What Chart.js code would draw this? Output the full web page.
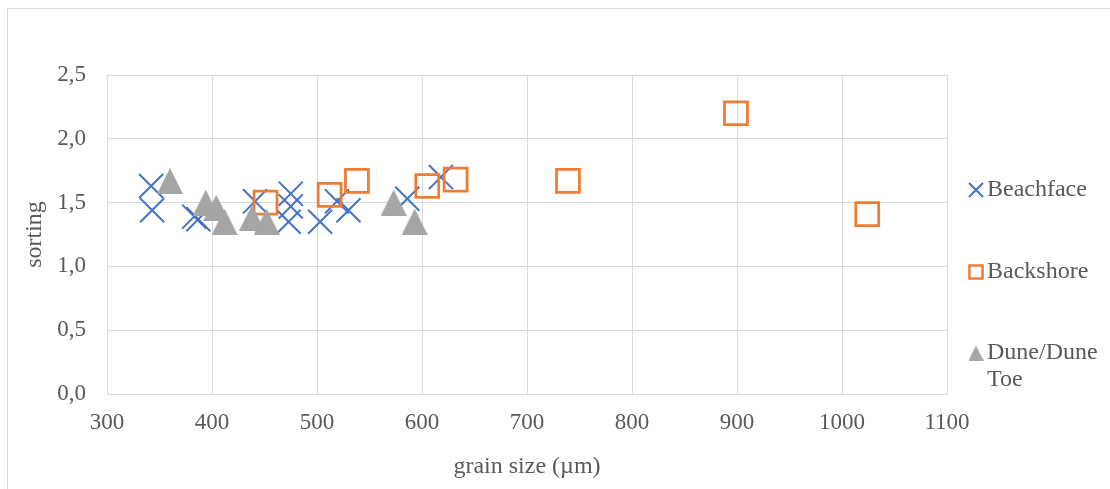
<!DOCTYPE html>
<html>
<head>
<meta charset="utf-8">
<script src="https://cdn.jsdelivr.net/npm/chart.js@4/dist/chart.umd.min.js"></script>
<style>
  html, body { margin: 0; padding: 0; background: #ffffff; }
  #wrap { width: 1110px; height: 489px; position: relative; }
</style>
</head>
<body>
<div id="wrap"><canvas id="c" width="1110" height="489"></canvas></div>
<script>
// Grain size (µm) and sorting per sample group
const beachfaceSize    = [342, 343, 383, 387, 441, 475, 475, 473, 503, 519, 530, 586, 618];
const beachfaceSorting = [1.63, 1.44, 1.39, 1.37, 1.51, 1.57, 1.47, 1.35, 1.35, 1.51, 1.44, 1.53, 1.70];

const backshoreSize    = [451, 512, 538, 605, 632, 739, 899, 1024];
const backshoreSorting = [1.50, 1.56, 1.67, 1.63, 1.68, 1.67, 2.20, 1.41];

const duneSize    = [360, 394, 404, 412, 438, 452, 573, 593];
const duneSorting = [1.67, 1.50, 1.46, 1.35, 1.38, 1.35, 1.50, 1.35];

const seriesNames = ['Beachface', 'Backshore', 'Dune/Dune Toe'];
const xTickValues = [300, 400, 500, 600, 700, 800, 900, 1000, 1100];
const yTickLabels = ['0,0', '0,5', '1,0', '1,5', '2,0', '2,5'];
const xTitle = 'grain size (µm)';
const yTitle = 'sorting';

const BLUE = '#4472C4', ORANGE = '#ED7D31', GREY = '#A5A5A5';
const TEXT = '#595959', GRID = '#D9D9D9';
const FONT = '"Liberation Serif", "Times New Roman", serif';

function pts(xs, ys) { return xs.map((x, i) => ({ x: x, y: ys[i] })); }

// filled grey triangle used as the dune marker
function triangleImage(w, h, color) {
  const cv = document.createElement('canvas');
  cv.width = w; cv.height = h;
  const g = cv.getContext('2d');
  g.fillStyle = color;
  g.beginPath();
  g.moveTo(w / 2, 0);
  g.lineTo(w, h);
  g.lineTo(0, h);
  g.closePath();
  g.fill();
  return cv;
}
const triMarker = triangleImage(26, 26, GREY);

// outer frame of the chart
const framePlugin = {
  id: 'frame',
  beforeDraw(chart) {
    const ctx = chart.ctx;
    ctx.save();
    ctx.fillStyle = '#ffffff';
    ctx.fillRect(0, 0, chart.width, chart.height);
    ctx.strokeStyle = GRID;
    ctx.lineWidth = 1;
    ctx.strokeRect(7.5, 8.5, chart.width + 20, chart.height + 20);
    ctx.restore();
  }
};

// legend at the right, with wrapped labels
const sideLegend = {
  id: 'sideLegend',
  afterDraw(chart) {
    const ctx = chart.ctx;
    const mx = 976, tx = 987, maxW = 120, lineH = 27;
    const rows = [190, 272, 353];
    ctx.save();
    ctx.font = '24px ' + FONT;
    ctx.fillStyle = TEXT;
    ctx.textBaseline = 'middle';
    ctx.textAlign = 'left';
    chart.data.datasets.forEach((ds, i) => {
      const y = rows[i];
      // marker
      if (i === 0) {
        ctx.strokeStyle = BLUE; ctx.lineWidth = 2;
        ctx.beginPath();
        ctx.moveTo(mx - 7, y - 7); ctx.lineTo(mx + 7, y + 7);
        ctx.moveTo(mx + 7, y - 7); ctx.lineTo(mx - 7, y + 7);
        ctx.stroke();
      } else if (i === 1) {
        ctx.strokeStyle = ORANGE; ctx.lineWidth = 2.5;
        ctx.strokeRect(mx - 6.5, y - 6.5, 13, 13);
      } else {
        ctx.drawImage(triangleImage(15, 15, GREY), mx - 7.5, y - 7.5);
      }
      // label, wrapped by width
      const words = ds.label.split(' ');
      const lines = [];
      let cur = '';
      words.forEach(w => {
        const test = cur ? cur + ' ' + w : w;
        if (cur && ctx.measureText(test).width > maxW) { lines.push(cur); cur = w; }
        else cur = test;
      });
      lines.push(cur);
      ctx.fillStyle = TEXT;
      lines.forEach((ln, k) => ctx.fillText(ln, tx, y + k * lineH));
    });
    ctx.restore();
  }
};

new Chart(document.getElementById('c'), {
  type: 'scatter',
  data: {
    datasets: [
      {
        label: seriesNames[0],
        data: pts(beachfaceSize, beachfaceSorting),
        pointStyle: 'crossRot',
        pointRadius: 17,
        borderColor: BLUE,
        backgroundColor: BLUE,
        borderWidth: 2,
        order: 3
      },
      {
        label: seriesNames[1],
        data: pts(backshoreSize, backshoreSorting),
        pointStyle: 'rect',
        pointRadius: 16.2,
        borderColor: ORANGE,
        backgroundColor: 'rgba(0,0,0,0)',
        borderWidth: 2.75,
        order: 2
      },
      {
        label: seriesNames[2],
        data: pts(duneSize, duneSorting),
        pointStyle: triMarker,
        pointRadius: 13,
        borderColor: GREY,
        backgroundColor: GREY,
        order: 1
      }
    ]
  },
  options: {
    responsive: false,
    animation: false,
    devicePixelRatio: 1,
    layout: { padding: { left: 0, top: 75, right: 163, bottom: 0 } },
    plugins: {
      legend: { display: false },
      tooltip: { enabled: false }
    },
    elements: { point: { hoverRadius: 0 } },
    scales: {
      x: {
        type: 'linear',
        min: xTickValues[0],
        max: xTickValues[xTickValues.length - 1],
        afterBuildTicks(scale) { scale.ticks = xTickValues.map(v => ({ value: v })); },
        afterFit(scale) { scale.height = 95; },
        grid: { color: GRID, lineWidth: 1, drawTicks: false },
        border: { color: GRID, width: 1 },
        ticks: {
          padding: 15,
          color: TEXT,
          font: { family: FONT, size: 23 },
          callback: v => String(v),
          maxRotation: 0,
          autoSkip: false
        },
        title: {
          display: true,
          text: xTitle,
          color: TEXT,
          font: { family: FONT, size: 24 },
          padding: { top: 0, bottom: 8 }
        }
      },
      y: {
        type: 'linear',
        min: 0,
        max: 2.5,
        afterBuildTicks(scale) { scale.ticks = yTickLabels.map((t, i) => ({ value: i * 0.5 })); },
        afterFit(scale) { scale.width = 107; },
        grid: { color: GRID, lineWidth: 1, drawTicks: false },
        border: { color: GRID, width: 1 },
        ticks: {
          padding: 21,
          color: TEXT,
          font: { family: FONT, size: 23 },
          callback: (v) => yTickLabels[Math.round(v / 0.5)],
          autoSkip: false
        },
        title: {
          display: true,
          text: yTitle,
          color: TEXT,
          font: { family: FONT, size: 24 },
          padding: { top: 20, bottom: 0 }
        }
      }
    }
  },
  plugins: [framePlugin, sideLegend]
});
</script>
</body>
</html>
